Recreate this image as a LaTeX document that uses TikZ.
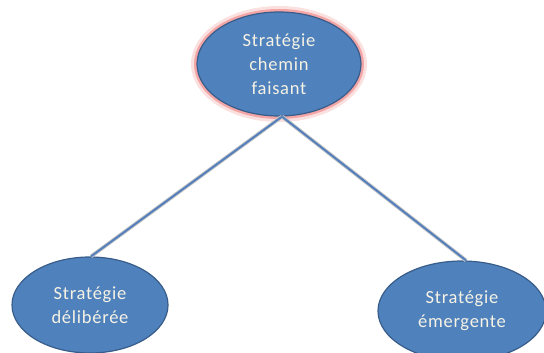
\documentclass[tikz,border=0pt]{standalone}
\usepackage{fontspec}
\setmainfont[LetterSpace=4]{Carlito}
\usetikzlibrary{shapes.geometric}
\definecolor{fillblue}{HTML}{4F81BD}
\definecolor{edgeblue}{HTML}{385D8A}
\definecolor{linkblue}{HTML}{5580BB}
\definecolor{glow}{HTML}{F4A6A6}
\definecolor{txt}{HTML}{F6F2E4}
\tikzset{
  bubble/.style={ellipse, draw=edgeblue, line width=1.2pt, fill=fillblue, inner sep=0pt,
    align=center, text=txt, font=\fontsize{18.5}{24}\selectfont},
  link/.style={draw=linkblue, line width=2pt},
  linkshade/.style={draw=black!22, line width=3.8pt}
}
\begin{document}
\begin{tikzpicture}[x=1pt,y=1pt]
\useasboundingbox (0,0) rectangle (544,353);
\begin{scope}
\clip (0,0) rectangle (544,353);
% glow behind top ellipse
\fill[glow!35] (279,289) ellipse [x radius=88, y radius=58];
\fill[glow] (279,289) ellipse [x radius=85, y radius=55];
\node[bubble, minimum width=164pt, minimum height=104pt] (top) at (279,289) {Stratégie\\chemin\\faisant};
\node[bubble, minimum width=156pt, minimum height=96pt] (left) at (90,48) {Stratégie\\délibérée};
\node[bubble, minimum width=168pt, minimum height=100pt] (right) at (462,42) {Stratégie\\émergente};
\draw[linkshade] ([xshift=3pt]top.south) -- ([xshift=1pt]left.north);
\draw[linkshade] ([xshift=3pt]top.south) -- ([xshift=4pt]right.north);
\draw[link] ([xshift=3pt]top.south) -- ([xshift=1pt]left.north);
\draw[link] ([xshift=3pt]top.south) -- ([xshift=4pt]right.north);
\end{scope}
\end{tikzpicture}
\end{document}
